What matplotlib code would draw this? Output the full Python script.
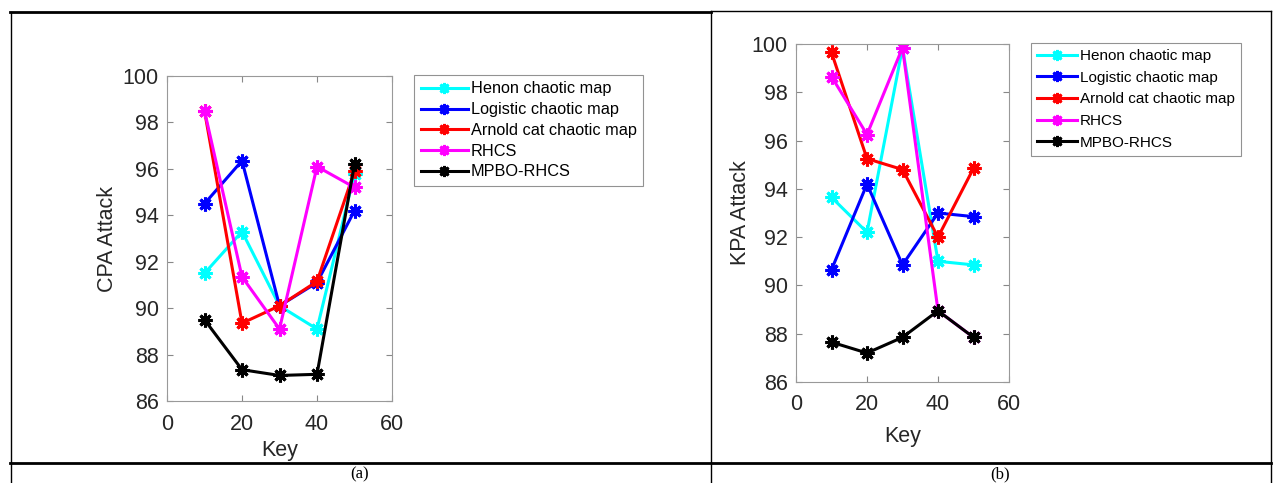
import matplotlib.pyplot as plt
from matplotlib.lines import Line2D

keys = [10, 20, 30, 40, 50]
names = ['Henon chaotic map', 'Logistic chaotic map', 'Arnold cat chaotic map', 'RHCS', 'MPBO-RHCS']
colors = ['cyan', 'blue', 'red', 'magenta', 'black']

cpa_henon = [91.5, 93.3, 90.1, 89.1, 95.8]
cpa_logistic = [94.5, 96.35, 90.1, 91.1, 94.2]
cpa_arnold = [98.5, 89.35, 90.1, 91.15, 95.9]
cpa_rhcs = [98.5, 91.35, 89.1, 96.1, 95.2]
cpa_mpbo = [89.5, 87.35, 87.1, 87.15, 96.2]

kpa_henon = [93.65, 92.2, 99.85, 91.0, 90.85]
kpa_logistic = [90.65, 94.2, 90.85, 93.0, 92.85]
kpa_arnold = [99.65, 95.25, 94.8, 92.0, 94.85]
kpa_rhcs = [98.65, 96.25, 99.85, 88.95, 87.85]
kpa_mpbo = [87.65, 87.2, 87.85, 88.95, 87.85]

W, H = 1273, 483
plt.rcParams['font.family'] = ['Liberation Sans', 'DejaVu Sans']
fig = plt.figure(figsize=(W / 100, H / 100), dpi=100)

# MATLAB-style asterisk
ast = (8, 2, 0)


def px_axes(l, t, r, b):
    return fig.add_axes([l / W, (H - b) / H, (r - l) / W, (b - t) / H])


def draw(ax, series, ylabel, leg_box, xlabelpad, ylabelpad, legsize, legspace, handlelen):
    for vals, name, c in zip(series, names, colors):
        ax.plot(keys, vals, color=c, linewidth=2.2, marker=ast, markersize=10,
                markeredgewidth=2.2, label=name)
    ax.set_xlim(0, 60)
    ax.set_ylim(86, 100)
    ax.set_xticks([0, 20, 40, 60])
    ax.set_yticks(range(86, 101, 2))
    ax.tick_params(direction='in', labelsize=15.5, top=True, right=True,
                   length=4, color='#888888', labelcolor='#262626')
    ax.tick_params(axis='x', pad=9)
    ax.tick_params(axis='y', pad=6)
    for s in ax.spines.values():
        s.set_color('#999999')
        s.set_linewidth(0.8)
    ax.set_xlabel('Key', fontsize=15.5, color='#262626', labelpad=xlabelpad)
    ax.set_ylabel(ylabel, fontsize=15.5, color='#262626', labelpad=ylabelpad)
    handles = [Line2D([], [], color=c, linewidth=2.2, marker=ast, markersize=8,
                      markeredgewidth=2) for c in colors]
    leg = fig.legend(handles, names, loc='upper left',
                     bbox_to_anchor=(leg_box[0] / W, 1 - leg_box[1] / H),
                     fontsize=legsize, frameon=True, fancybox=False,
                     edgecolor='#777777', handlelength=handlelen, handletextpad=0.2,
                     labelspacing=legspace, borderpad=0.4, borderaxespad=0)
    leg.get_frame().set_linewidth(0.8)


ax1 = px_axes(167, 76, 392, 401)
draw(ax1, [cpa_henon, cpa_logistic, cpa_arnold, cpa_rhcs, cpa_mpbo], 'CPA Attack',
     (414, 75), 4, 3.5, 11.7, 0.35, 2.9)
ax2 = px_axes(796, 44, 1009, 382)
draw(ax2, [kpa_henon, kpa_logistic, kpa_arnold, kpa_rhcs, kpa_mpbo], 'KPA Attack',
     (1031, 43), 7.5, 0.5, 11, 0.5, 2.6)


# table borders around the two panels
def hline(y, x0, x1, lw):
    fig.add_artist(Line2D([x0 / W, x1 / W], [1 - y / H, 1 - y / H], color='black', linewidth=lw))


def vline(x, y0, y1, lw):
    fig.add_artist(Line2D([x / W, x / W], [1 - y0 / H, 1 - y1 / H], color='black', linewidth=lw))


hline(12, 10, 711, 2)
hline(11, 711, 1271, 1)
hline(463, 10, 1271, 2)
vline(10.5, 12, 483, 1)
vline(711, 11, 483, 1)
vline(1271, 11, 483, 1)

fig.text(360 / W, 1 - 474 / H, '(a)', family='Liberation Serif', fontsize=12,
         ha='center', va='center')
fig.text(1000 / W, 1 - 474 / H, '(b)', family='Liberation Serif', fontsize=12,
         ha='center', va='center')

fig.savefig('out.png', dpi=100)
